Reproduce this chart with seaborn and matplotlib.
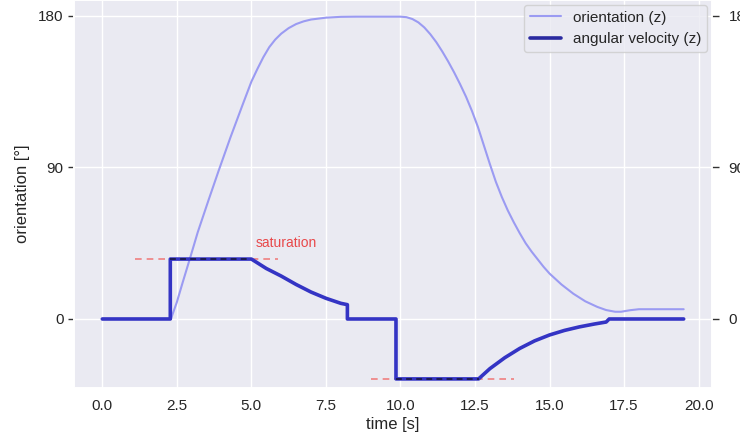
import numpy as np
import pandas as pd
import matplotlib
matplotlib.use("Agg")
import matplotlib.pyplot as plt
import seaborn as sns
from matplotlib.lines import Line2D

# ---- data ----
orient_t = [0.0, 2.3, 2.5, 2.7, 2.94, 3.2, 3.57, 3.9, 4.3, 4.7, 5.0, 5.2, 5.4, 5.6, 5.8, 6.0,
            6.25, 6.5, 6.75, 7.0, 7.5, 8.0, 8.5, 10.0, 10.2, 10.4, 10.6, 10.8, 11.0, 11.2,
            11.4, 11.6, 11.8, 12.0, 12.2, 12.4, 12.6, 12.8, 13.0, 13.2, 13.4, 13.6, 13.8,
            14.0, 14.2, 14.4, 14.6, 14.8, 15.0, 15.4, 15.8, 16.2, 16.6, 16.9, 17.2, 17.4,
            17.7, 18.0, 19.5]
orient_v = [0.0, 0.0, 10, 22, 36, 51.5, 71, 88, 108, 127, 141, 148.5, 155.5, 161.5, 166, 169.5,
            172.8, 175.2, 176.8, 177.9, 179.0, 179.5, 179.6, 179.6, 179.3, 178.2, 176.2, 173.2,
            169.2, 164.5, 159, 153, 146.5, 139.5, 132, 123.5, 114, 103, 92, 81.5, 72.5, 64.5,
            57.5, 51, 45, 40, 35.5, 31, 27, 20.5, 15, 10.5, 7.2, 5.3, 4.3, 4.3, 5.2, 5.8, 5.8]

vel_t = [0.0, 2.28, 2.28, 5.0, 5.5, 6.0, 6.5, 7.0, 7.5, 8.0, 8.22, 8.22, 9.85, 9.85, 12.62,
         13.0, 13.5, 14.0, 14.5, 15.0, 15.5, 16.0, 16.5, 16.9, 17.0, 19.5]
vel_v = [0.0, 0.0, 35.6, 35.6, 30, 25.5, 20.5, 16, 12.3, 9.3, 8.5, 0.0, 0.0, -35.6, -35.6,
         -29.5, -23, -17.5, -13, -9.5, -6.8, -4.7, -3.0, -1.8, 0.0, 0.0]

saturation = 35.6
sat_upper_t = [1.1, 5.9]
sat_lower_t = [9.0, 13.8]

# ---- style ----
sns.set_theme(style="darkgrid", context="notebook")
plt.rcParams['font.family'] = ['Liberation Sans', 'DejaVu Sans']

fig = plt.figure(figsize=(7.4, 4.43), dpi=100)
ax = fig.add_axes([74 / 740, 1 - 388 / 443, (712 - 74) / 740, 388 / 443])
ax2 = ax.twinx()

c_orient = '#9b9bf2'
c_vel = '#3434c4'

df_o = pd.DataFrame({'t': orient_t, 'v': orient_v})
df_w = pd.DataFrame({'t': vel_t, 'v': vel_v})

sns.lineplot(data=df_o, x='t', y='v', ax=ax, color=c_orient, lw=1.5,
             estimator=None, sort=False)

# saturation lines
ax2.plot(sat_upper_t, [saturation, saturation], ls=(0, (4, 3)), color='#f08080', lw=1.2, zorder=1)
ax2.plot(sat_lower_t, [-saturation, -saturation], ls=(0, (4, 3)), color='#f08080', lw=1.2, zorder=1)

sns.lineplot(data=df_w, x='t', y='v', ax=ax2, color=c_vel, lw=2.6,
             estimator=None, sort=False, zorder=2)

# saturated segments overlay
vt = np.array(vel_t)
vv = np.array(vel_v)
for sgn in (1, -1):
    m = np.isclose(vv, sgn * saturation)
    ax2.plot(vt[m], vv[m], ls=(0, (3, 2.2)), color='#1c1c55', lw=1.4, zorder=3)

ax2.text(5.15, 45, 'saturation', color='#e8484a', fontsize=10, va='center', ha='left')

lim = (-41, 189.5)
for a in (ax, ax2):
    a.set_ylim(*lim)
    a.set_xlim(-0.95, 20.45)
    a.set_yticks([0, 90, 180])
ax.set_yticklabels(['0', '90', '180'])
ax2.set_yticklabels(['0', '90', '180'])
ax2.grid(False)
ax.tick_params(axis='y', length=4.5, width=1, color='#333333', pad=3)
ax2.tick_params(axis='y', length=5, width=1, color='#333333', pad=7)
ax.tick_params(axis='x', length=0, pad=8)
ax.set_xticks([0, 2.5, 5, 7.5, 10, 12.5, 15, 17.5, 20])
ax.set_xticklabels(['0.0', '2.5', '5.0', '7.5', '10.0', '12.5', '15.0', '17.5', '20.0'])
ax.set_xlabel('time [s]', labelpad=3)
ax.set_ylabel('orientation [°]', labelpad=6)
ax2.set_ylabel('')
ax2.set_xlabel('')

handles = [Line2D([], [], color=c_orient, lw=1.5), Line2D([], [], color='#2a2aa0', lw=2.6)]
ax2.legend(handles, ['orientation (z)', 'angular velocity (z)'], loc='upper right',
           fontsize=11, frameon=True, borderaxespad=0.3)

fig.savefig('out.png', dpi=100)
